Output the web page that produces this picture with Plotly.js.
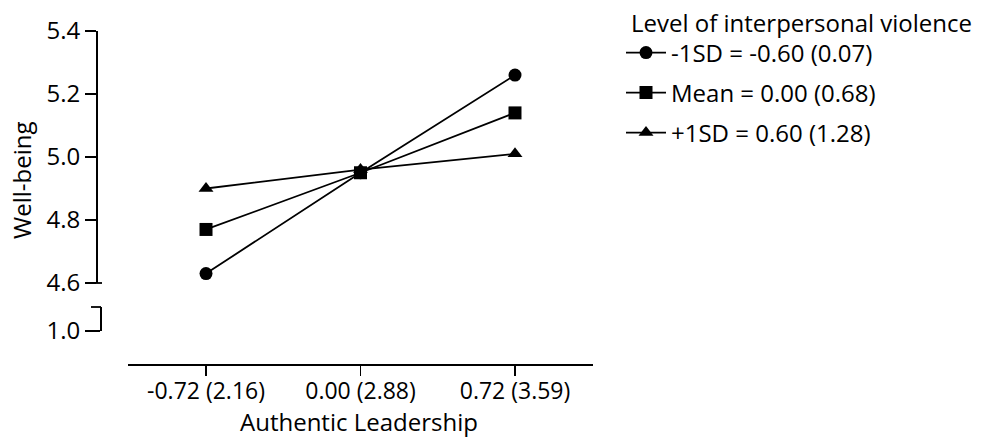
<!DOCTYPE html>
<html>
<head>
<meta charset="utf-8">
<script src="https://cdn.plot.ly/plotly-3.0.1.min.js"></script>
<style>html,body{margin:0;padding:0;background:#fff;}#chart{width:985px;height:440px;}</style>
</head>
<body>
<div id="chart"></div>
<script>
// ---- data ----
var categories = ["-0.72 (2.16)", "0.00 (2.88)", "0.72 (3.59)"];
var seriesNames = ["-1SD = -0.60 (0.07)", "Mean = 0.00 (0.68)", "+1SD = 0.60 (1.28)"];
var lowValues  = [4.63, 4.95, 5.26];
var meanValues = [4.77, 4.95, 5.14];
var highValues = [4.90, 4.96, 5.01];
var upperTicks = [4.6, 4.8, 5.0, 5.2, 5.4];
var upperTickText = ["4.6", "4.8", "5.0", "5.2", "5.4"];
var lowerTicks = [1.0];
var lowerTickText = ["1.0"];

// ---- layout helpers (pixel -> paper) ----
var W = 985, H = 440;
function px(x){ return x / W; }
function py(y){ return 1 - y / H; }

var FONT = "Open Sans, Noto Sans, sans-serif";
var symbols = ["circle", "square", "triangle-up"];
var allValues = [lowValues, meanValues, highValues];
var legendIds = ["legend", "legend2", "legend3"];
var legendRows = [53, 93, 133];

var traces = allValues.map(function(vals, i){
  return {
    type: "scatter",
    mode: "lines+markers",
    x: categories,
    y: vals,
    name: seriesNames[i],
    legend: legendIds[i],
    line: {color: "#000", width: 1.8},
    marker: {symbol: symbols[i], size: 13, color: "#000"},
    hoverinfo: "x+y+name"
  };
});
// empty trace so the lower axis segment is drawn
traces.push({type: "scatter", x: [], y: [], yaxis: "y2", showlegend: false, hoverinfo: "skip"});

var layout = {
  width: W, height: H,
  margin: {l: 0, r: 0, t: 0, b: 0},
  paper_bgcolor: "#fff", plot_bgcolor: "rgba(0,0,0,0)",
  font: {family: FONT, color: "#000", size: 20},
  showlegend: true,
  xaxis: {
    type: "category",
    categoryorder: "array", categoryarray: categories,
    domain: [px(128), px(593)],
    range: [-0.505, 2.505],
    anchor: "free", position: py(364),
    showline: true, linecolor: "#000", linewidth: 1.8,
    ticks: "outside", ticklen: 10, tickwidth: 1.8, tickcolor: "#000",
    ticklabelstandoff: -4,
    showgrid: false, zeroline: false,
    tickfont: {family: FONT, size: 23, color: "#000"},
    fixedrange: true
  },
  yaxis: {
    domain: [py(283), py(31)],
    range: [4.6, 5.4],
    anchor: "free", position: px(96),
    showline: true, linecolor: "#000", linewidth: 1.8,
    ticks: "outside", ticklen: 11, tickwidth: 1.8, tickcolor: "#000",
    tickvals: upperTicks, ticktext: upperTickText,
    showgrid: false, zeroline: false,
    tickfont: {family: FONT, size: 24, color: "#000"},
    fixedrange: true
  },
  yaxis2: {
    domain: [py(331), py(307)],
    range: [1.0, 1.1],
    anchor: "free", position: px(100),
    showline: true, linecolor: "#000", linewidth: 1.8,
    ticks: "outside", ticklen: 15, tickwidth: 1.8, tickcolor: "#000",
    tickvals: lowerTicks, ticktext: lowerTickText,
    showgrid: false, zeroline: false,
    tickfont: {family: FONT, size: 24, color: "#000"},
    fixedrange: true
  },
  shapes: [
    // cap at top of lower axis segment
    {type: "line", xref: "paper", yref: "paper", x0: px(91), x1: px(101), y0: py(307), y1: py(307), line: {color: "#000", width: 1.8}},
    // right-hand stub at bottom of upper axis segment
    {type: "line", xref: "paper", yref: "paper", x0: px(96), x1: px(102), y0: py(283), y1: py(283), line: {color: "#000", width: 1.8}}
  ],
  annotations: [
    {text: "Well-being", xref: "paper", yref: "paper", x: px(21), y: py(181), xanchor: "center", yanchor: "middle", textangle: -90, showarrow: false, font: {family: FONT, size: 24, color: "#000"}},
    {text: "Authentic Leadership", xref: "paper", yref: "paper", x: px(359), y: 0, xanchor: "center", yanchor: "bottom", showarrow: false, font: {family: FONT, size: 24, color: "#000"}},
    {text: "Level of interpersonal violence", xref: "paper", yref: "paper", x: px(629), y: py(23), xanchor: "left", yanchor: "middle", showarrow: false, font: {family: FONT, size: 24, color: "#000"}}
  ]
};

legendIds.forEach(function(id, i){
  layout[id] = {
    x: px(621), y: py(legendRows[i]), xanchor: "left", yanchor: "middle",
    bgcolor: "rgba(0,0,0,0)", borderwidth: 0,
    font: {family: FONT, size: 24, color: "#000"},
    itemwidth: 40
  };
});

Plotly.newPlot("chart", traces, layout, {displayModeBar: false, staticPlot: true});
</script>
</body>
</html>
